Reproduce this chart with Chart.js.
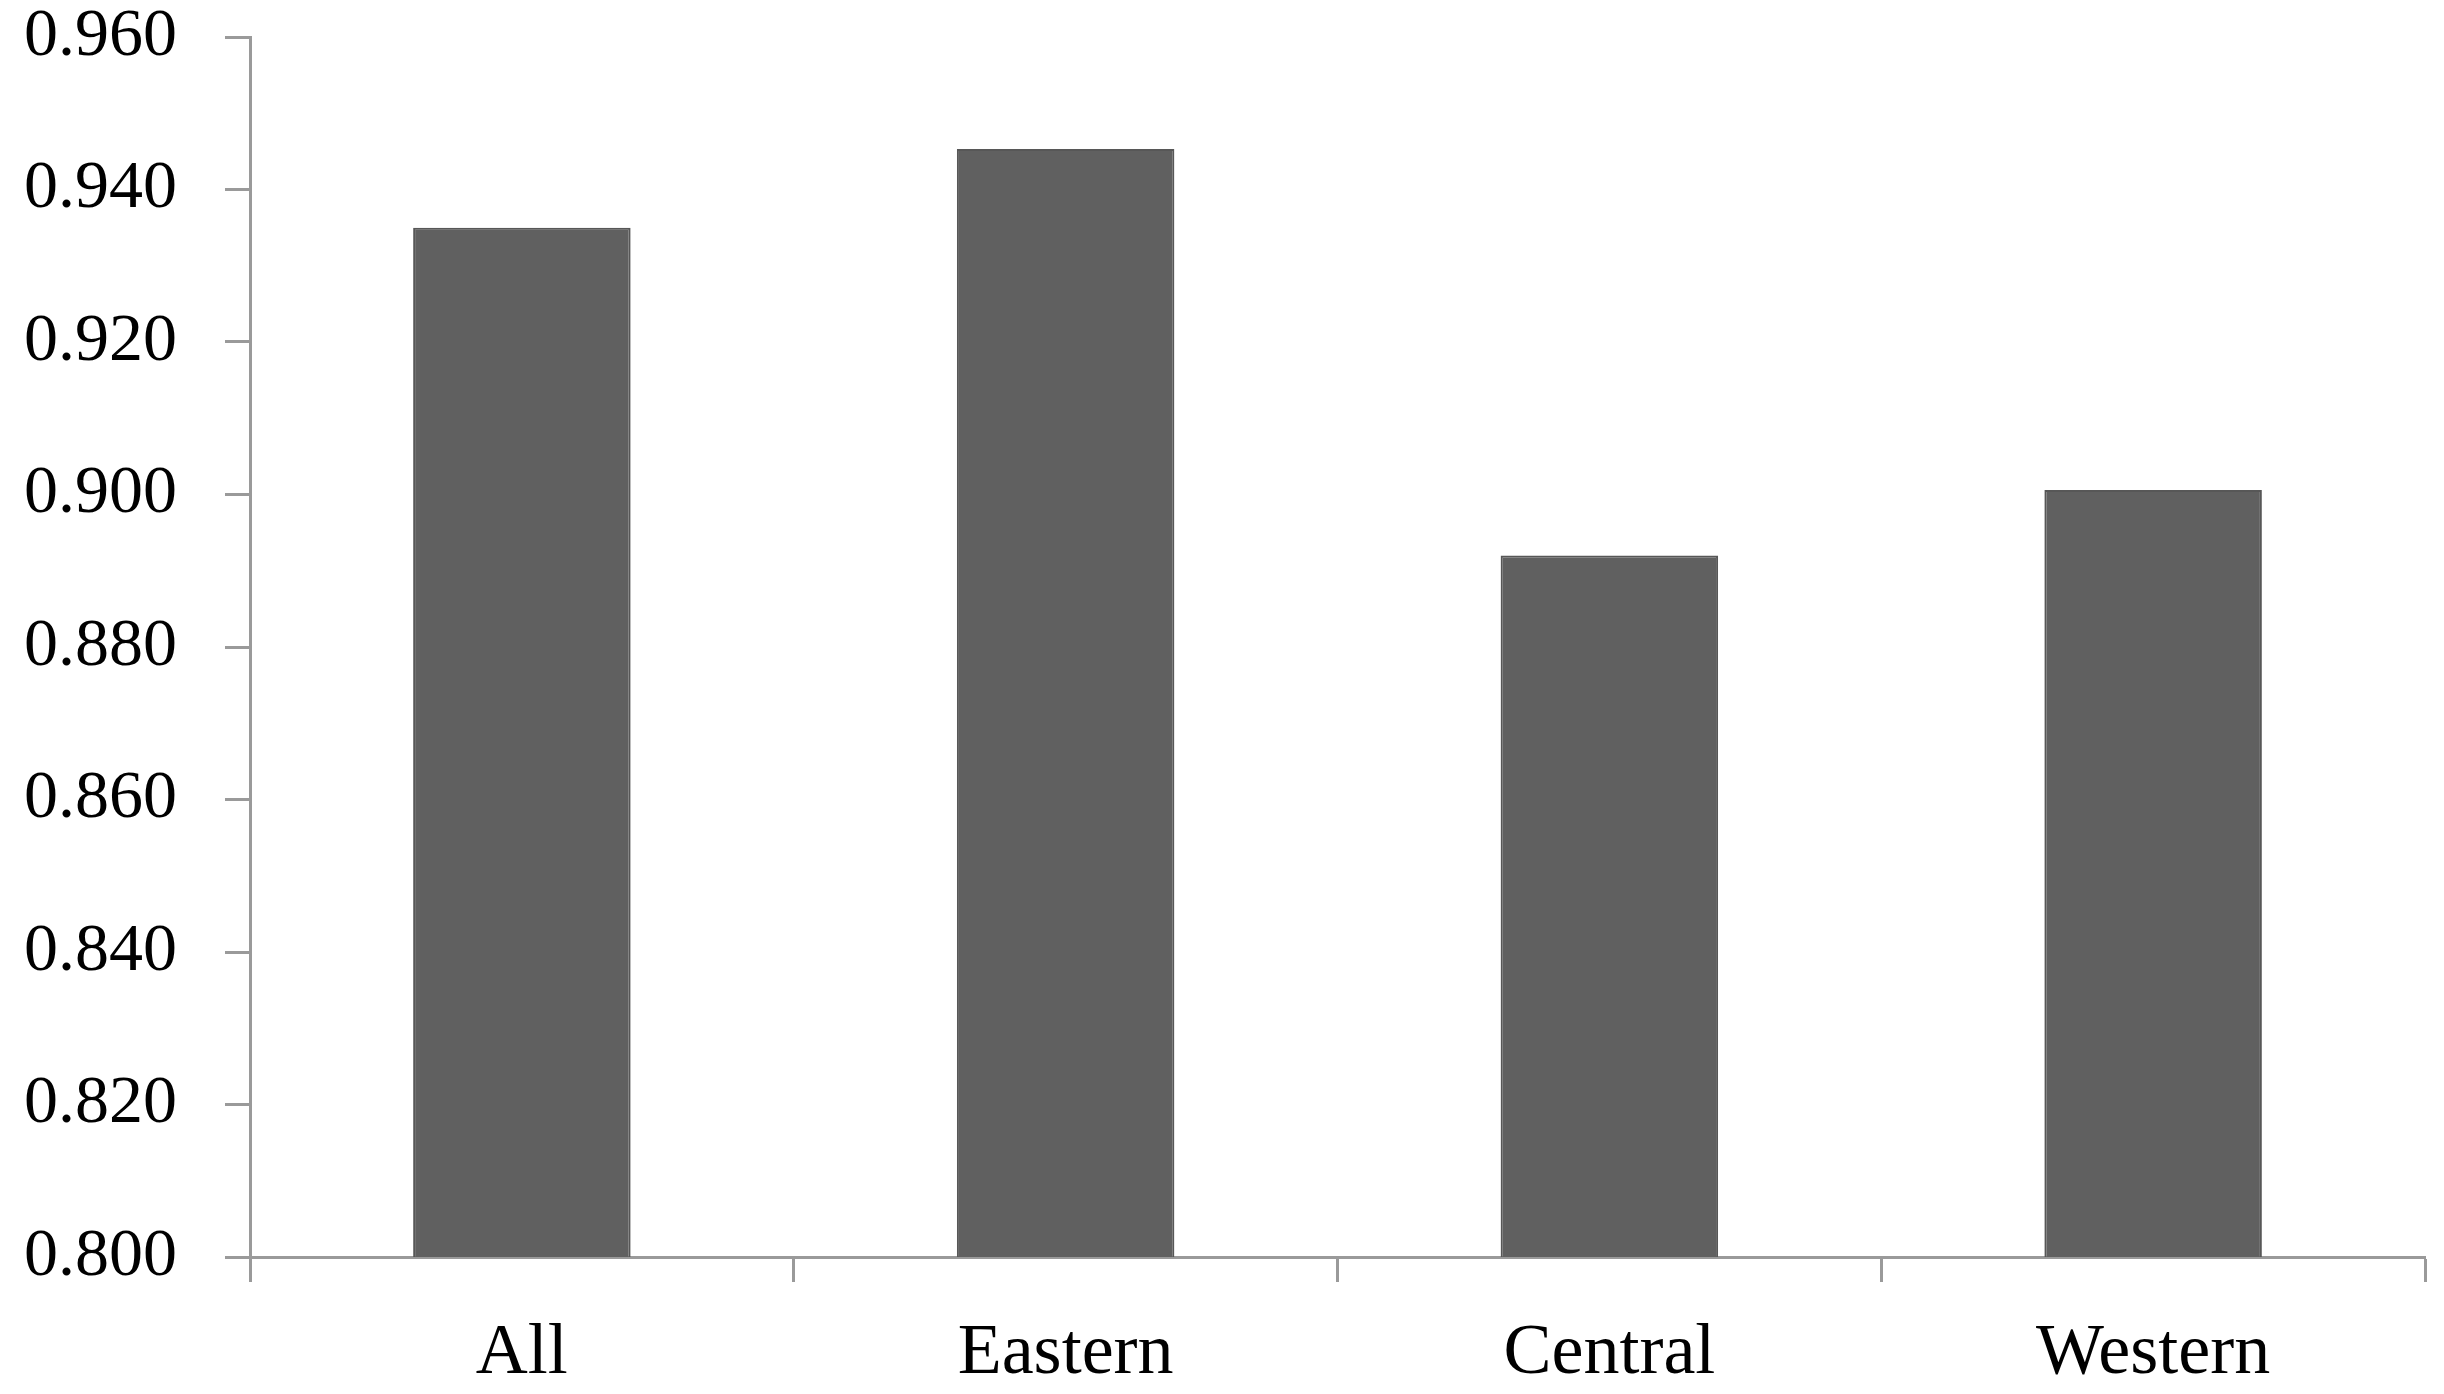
<!DOCTYPE html>
<html>
<head>
<meta charset="utf-8">
<title>Regional bar chart</title>
<script src="https://cdn.jsdelivr.net/npm/chart.js@4/dist/chart.umd.min.js"></script>
<style>
    html, body { margin: 0; padding: 0; background: #fff; }
    canvas { display: block; }
</style>
</head>
<body>
<canvas id="barChart" width="2444" height="1394"></canvas>
<script>
// ================= DATA =================
const regions = ["All", "Eastern", "Central", "Western"];
const scores = [0.935, 0.9453, 0.892, 0.9006];
const yTicks = [0.800, 0.820, 0.840, 0.860, 0.880, 0.900, 0.920, 0.940, 0.960];

const AXIS_GREY = "#9a9a9a";
const SERIF = "'Liberation Serif', 'DejaVu Serif', serif";

// ================= CHART =================
new Chart(document.getElementById("barChart"), {
    type: "bar",
    data: {
        labels: regions,
        datasets: [{
            data: scores,
            backgroundColor: "#606060",
            borderColor: "#575757",
            borderWidth: 2,
            categoryPercentage: 1,
            barPercentage: 0.4
        }]
    },
    options: {
        responsive: false,
        animation: false,
        layout: { padding: { left: 20, right: 19, top: 0, bottom: 0 } },
        plugins: {
            legend: { display: false },
            tooltip: { enabled: false }
        },
        scales: {
            x: {
                afterFit: axis => { axis.height = 137; },
                border: { color: AXIS_GREY, width: 3 },
                grid: {
                    offset: true,
                    drawOnChartArea: false,
                    drawTicks: true,
                    tickLength: 25,
                    tickWidth: 3,
                    tickColor: AXIS_GREY
                },
                ticks: { color: "#000", font: { family: SERIF, size: 72 }, padding: 29 }
            },
            y: {
                min: yTicks[0],
                max: yTicks[yTicks.length - 1],
                afterBuildTicks: axis => {
                    axis.ticks = yTicks.map(v => ({ value: v }));
                },
                afterFit: axis => {
                    axis.width -= 44;
                    axis.paddingTop = 37;
                },
                border: { color: AXIS_GREY, width: 3 },
                grid: {
                    drawOnChartArea: false,
                    drawTicks: true,
                    tickLength: 25,
                    tickWidth: 3,
                    tickColor: AXIS_GREY
                },
                ticks: {
                    color: "#000",
                    font: { family: SERIF, size: 68 },
                    padding: 48,
                    callback: v => Number(v).toFixed(3)
                }
            }
        }
    }
});
</script>
</body>
</html>
